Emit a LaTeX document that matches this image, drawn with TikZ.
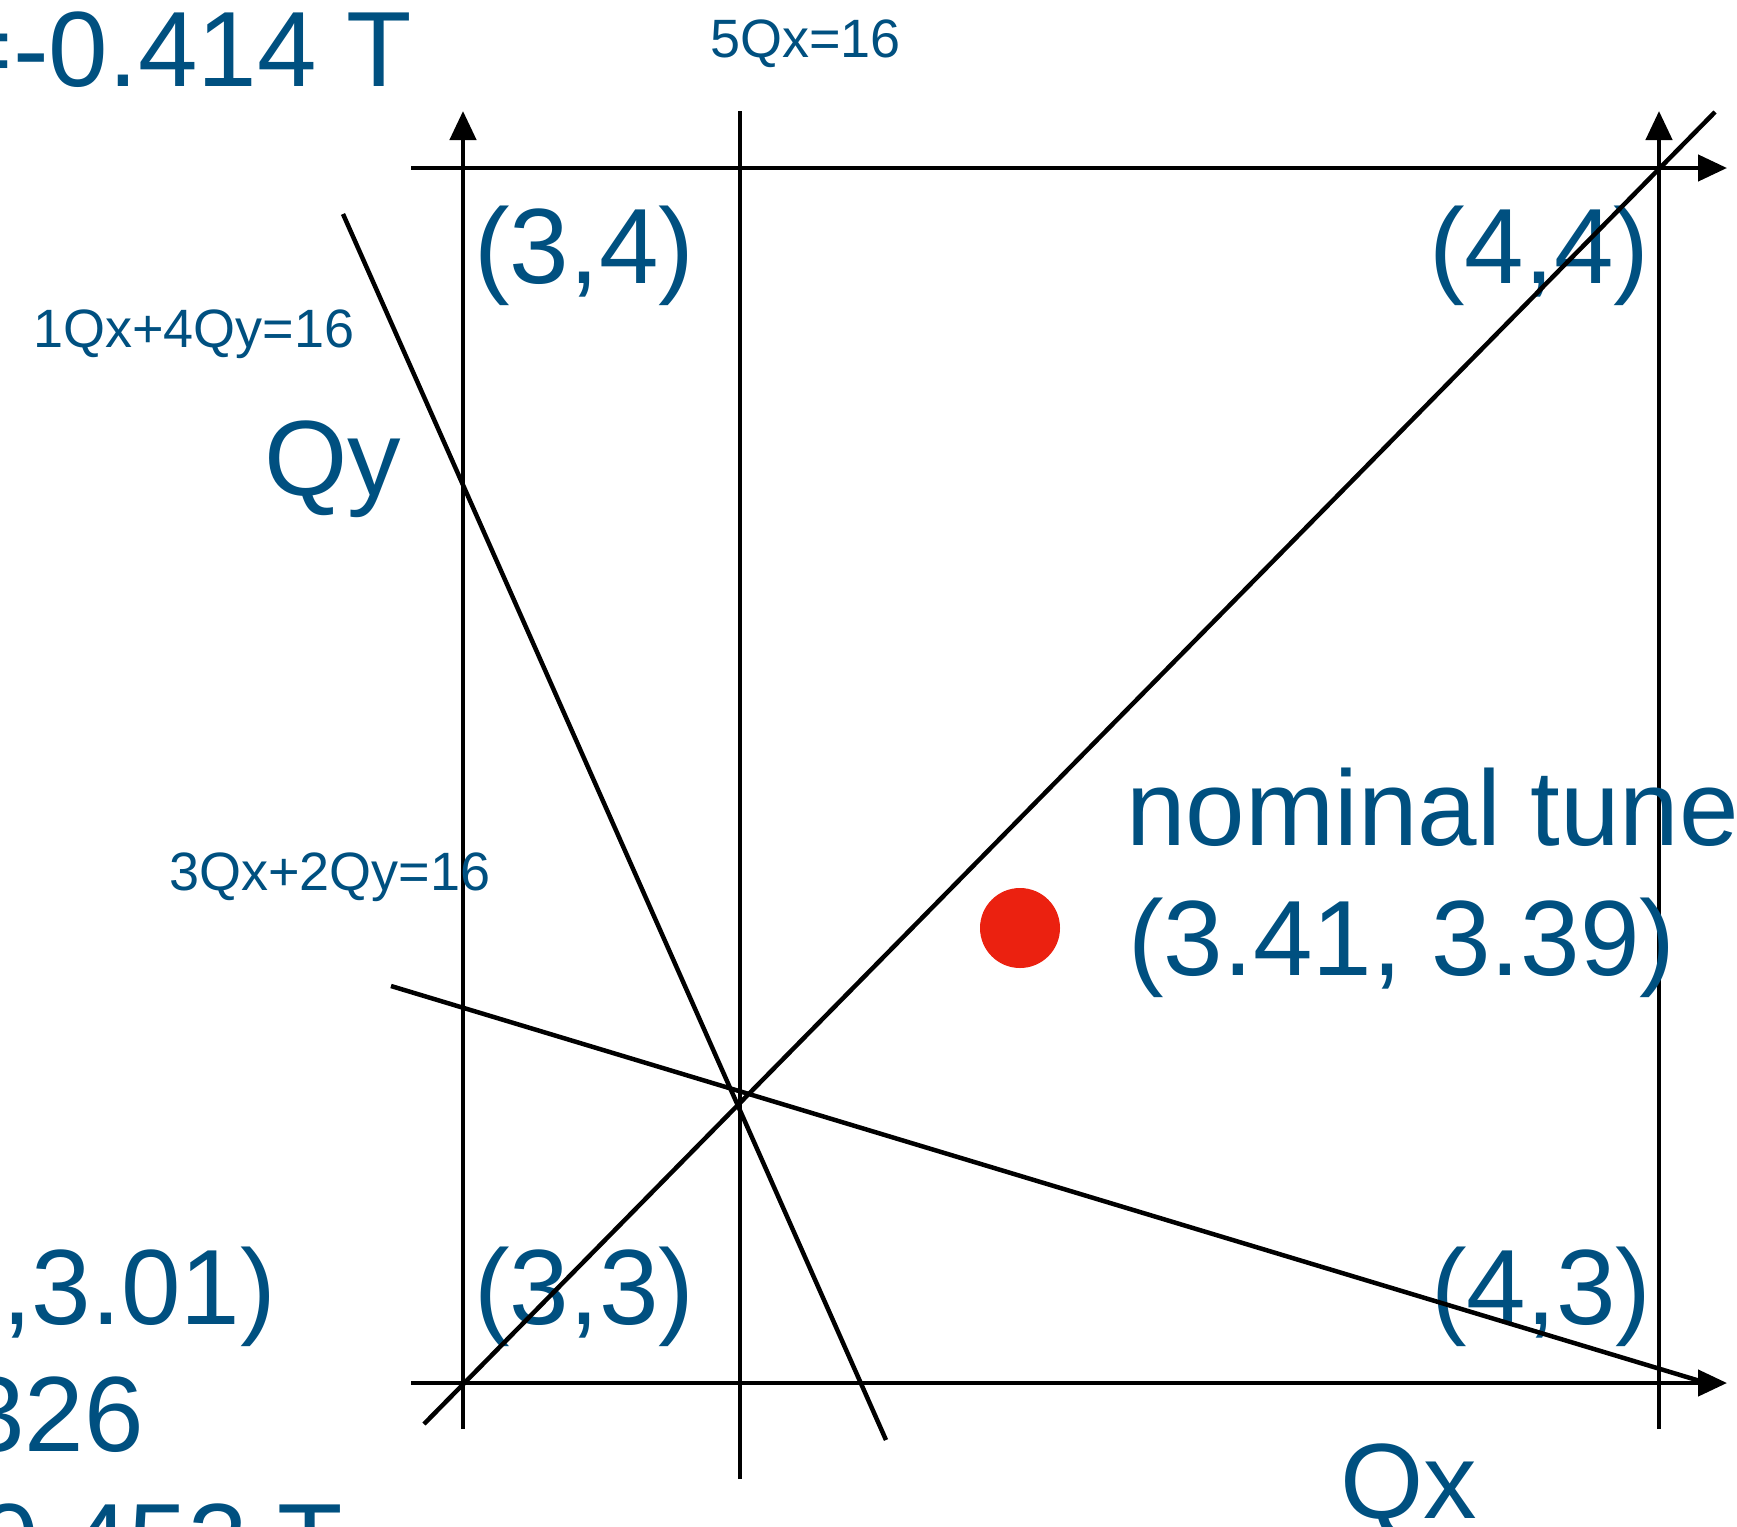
\documentclass[tikz,border=0pt]{standalone}
\usepackage{fontspec}
\setmainfont{Liberation Sans}
\usetikzlibrary{arrows.meta}
\definecolor{lblue}{RGB}{0,80,128}
\definecolor{dotred}{RGB}{235,33,16}
\begin{document}
\begin{tikzpicture}[x=1pt,y=-1pt,
  ln/.style={line width=4.5pt,black},
  ax/.style={ln,-{Triangle[length=29pt,width=26pt]}},
  big/.style={text=lblue,font=\fontsize{107}{128}\selectfont,inner sep=0pt,anchor=base west},
  bigr/.style={big,anchor=base east},
  small/.style={text=lblue,font=\fontsize{54}{65}\selectfont,inner sep=0pt,anchor=base west}]
\useasboundingbox (0,0) rectangle (1737,1526);
% coordinates
\coordinate (lvb) at (463,1429);
\coordinate (lvt) at (463,111);
\coordinate (mvt) at (740,111);
\coordinate (mvb) at (740,1479);
\coordinate (rvb) at (1659,1429);
\coordinate (rvt) at (1659,111);
\coordinate (tha) at (411,168);
\coordinate (thb) at (1727,168);
\coordinate (bha) at (411,1383);
\coordinate (bhb) at (1727,1383);
\coordinate (dga) at (424,1424);
\coordinate (dgb) at (1715,112);
\coordinate (q14a) at (343,214);
\coordinate (q14b) at (886,1440);
\coordinate (q32a) at (391,986);
\coordinate (q32b) at (1700,1381);
% lines
\draw[ax] (lvb) -- (lvt);
\draw[ln] (mvb) -- (mvt);
\draw[ax] (rvb) -- (rvt);
\draw[ax] (tha) -- (thb);
\draw[ax] (bha) -- (bhb);
% labels
\node[big] (l34) at (474,283) {(3,4)};
\node[big] (l44) at (1429,283) {(4,4)};
\node[big] (l33) at (474,1324) {(3,3)};
\node[big] (l43) at (1431,1324) {(4,3)};
\node[big] (qy) at (264,495) {Qy};
\node[big] (qx) at (1340,1518) {Qx};
\node[big] (nom) at (1126,845) {nominal tune};
\node[big] (nomv) at (1128,975) {(3.41, 3.39)};
\node[small] (r5) at (710,57) {5Qx=16};
\node[small] (r14) at (33,347) {1Qx+4Qy=16};
\node[small] (r32) at (169,890) {3Qx+2Qy=16};
\node[bigr] (tl) at (412,86) {=-0.414 T};
\node[bigr] (bl1) at (276,1324) {,3.01)};
\node[bigr] (bl2) at (144,1451) {326};
\node[bigr] (bl3) at (343,1578) {0.453 T};
% resonance lines over the labels
\draw[ln] (dga) -- (dgb);
\draw[ln] (q14a) -- (q14b);
\draw[ln] (q32a) -- (q32b);
\fill[dotred] (1020,928) circle (40);
\end{tikzpicture}
\end{document}
